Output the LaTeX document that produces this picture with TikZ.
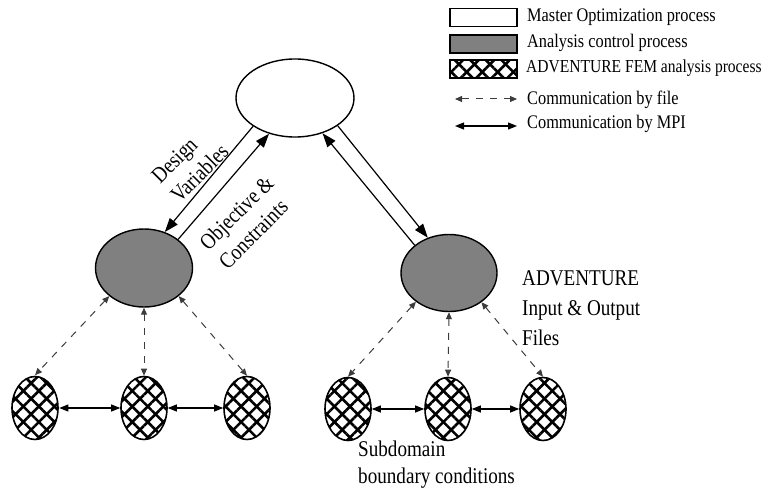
\documentclass[tikz,border=0pt]{standalone}
\usepackage{fontspec}
\setmainfont{Liberation Serif}[FakeStretch=0.85]
\usepackage{tikz}
\usetikzlibrary{arrows.meta, shapes.geometric, patterns.meta}
\definecolor{ctrlgray}{RGB}{128,128,128}
\definecolor{dashgray}{RGB}{60,60,60}
\tikzset{
  hatch/.style={
    preaction={pattern={Lines[angle=45,distance=11pt,line width=2.6pt]}},
    pattern={Lines[angle=-45,distance=11pt,line width=2.6pt]}
  },
  master/.style={
    ellipse, draw, line width=1.4pt, fill=white,
    minimum width=118pt, minimum height=78pt, inner sep=0pt
  },
  control/.style={
    ellipse, draw, line width=1.4pt, fill=ctrlgray,
    minimum width=97pt, minimum height=78pt, inner sep=0pt
  },
  fem/.style={
    ellipse, draw, line width=1.6pt, hatch,
    minimum width=46pt, minimum height=63pt, inner sep=0pt
  },
  legendbox/.style={draw, line width=1.4pt, minimum width=67pt, minimum height=18pt, inner sep=0pt},
  mpi/.style={-{Triangle[length=14pt,width=10pt]}, line width=1.2pt},
  mpismall/.style={{Triangle[length=9pt,width=7pt]}-{Triangle[length=9pt,width=7pt]}, line width=1.1pt},
  filecomm/.style={{Triangle[length=7pt,width=6pt]}-{Triangle[length=7pt,width=6pt]},
    line width=1pt, dashgray, dash pattern=on 7pt off 7pt},
  legendtext/.style={anchor=west, inner sep=0pt, font=\fontsize{19.2}{23}\selectfont},
  label/.style={inner sep=0pt, align=left, font=\fontsize{22.5}{27}\selectfont},
}
\begin{document}
\begin{tikzpicture}[x=1pt, y=-1pt]
  \useasboundingbox (0,0) rectangle (770,492);

  % processes
  \node[master] (M) at (295,98) {};
  \node[control] (L) at (144,268) {};
  \node[control, minimum width=96pt, minimum height=77pt] (R) at (449,273) {};

  \node[fem] (a1) at (35,408) {};
  \node[fem] (a2) at (144,408) {};
  \node[fem] (a3) at (247,408) {};
  \node[fem] (b1) at (348,409) {};
  \node[fem] (b2) at (448,409) {};
  \node[fem] (b3) at (543,409) {};

  % MPI between master and control
  \draw[mpi] (M.214) -- (L.60);
  \draw[mpi] (L.40) -- (M.234);
  \draw[mpi] (M.327) -- (R.121);
  \draw[mpi] (R.141) -- (M.308);

  % file communication
  \draw[filecomm] (L.219) -- (a1.north);
  \draw[filecomm] (L.south) -- (a2.north);
  \draw[filecomm] (L.321) -- (a3.north);
  \draw[filecomm] (R.221) -- (b1.north);
  \draw[filecomm] (R.south) -- (b2.north);
  \draw[filecomm] (R.318) -- (b3.north);

  % MPI between subdomains
  \draw[mpismall] (a1) -- (a2);
  \draw[mpismall] (a2) -- (a3);
  \draw[mpismall] (b1) -- (b2);
  \draw[mpismall] (b2) -- (b3);

  % labels
  \node[label, rotate=45] (dv) at (190,164) {Design\\Variables};
  \node[label, rotate=45] (oc) at (246,222) {Objective \&\\Constraints};
  \node[label, anchor=west] (io) at (522,308) {ADVENTURE\\[3pt]Input \& Output\\[3pt]Files};
  \node[label, anchor=west] (bc) at (358,465) {Subdomain\\boundary conditions};

  % legend
  \node[legendbox, fill=white] (k1) at (483.5,17.5) {};
  \node[legendbox, fill=ctrlgray] (k2) at (483.5,44) {};
  \node[legendbox, hatch] (k3) at (483.5,69) {};
  \coordinate (f1) at (455,99);
  \coordinate (f2) at (517,99);
  \coordinate (m1) at (455,126);
  \coordinate (m2) at (517,126);
  \draw[filecomm] (f1) -- (f2);
  \draw[mpismall] (m1) -- (m2);
  \node[legendtext] (t1) at (527,17) {Master Optimization process};
  \node[legendtext] (t2) at (527,43) {Analysis control process};
  \node[legendtext, font=\fontsize{18.3}{22}\selectfont] (t3) at (526,68) {ADVENTURE FEM analysis process};
  \node[legendtext] (t4) at (527,100) {Communication by file};
  \node[legendtext] (t5) at (527,124) {Communication by MPI};
\end{tikzpicture}
\end{document}
